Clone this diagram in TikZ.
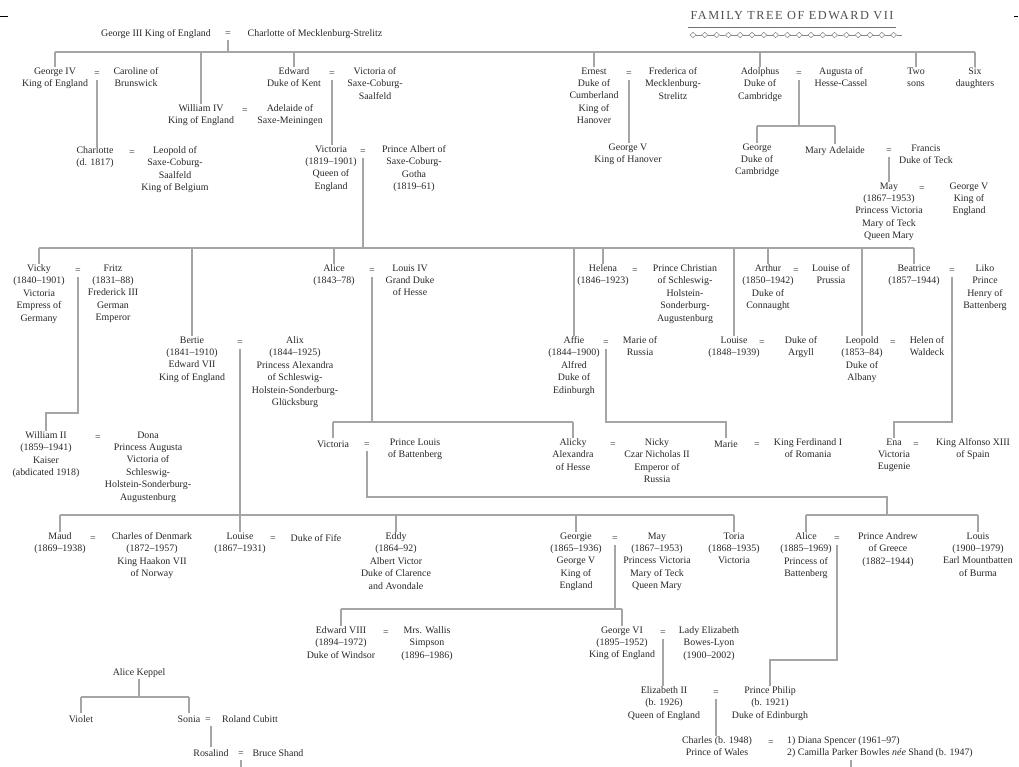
\documentclass[tikz,border=0pt]{standalone}
\usepackage{fontspec}
\setmainfont{Liberation Serif}
\definecolor{txt}{RGB}{40,40,40}
\definecolor{lngray}{RGB}{165,165,165}
\definecolor{ttlgray}{RGB}{80,80,80}
\begin{document}
\begin{tikzpicture}[x=1pt,y=-1pt,
  per/.style={align=center, inner sep=0pt, anchor=north, yshift=5.6pt,
    font=\fontsize{9.9}{12.4}\selectfont, text=txt, execute at begin node=\strut},
  ln/.style={draw=lngray, line width=1.3pt},
  orn/.style={draw=ttlgray!70, line width=0.5pt}]
\fill[white] (0,0) rectangle (1019,767);
\useasboundingbox (0,0) rectangle (1019,767);

% crop marks
\draw[black, line width=0.8pt] (0,16) -- (8,16);
\draw[black, line width=0.6pt] (1014,16) -- (1018,16);

% title with rule and ornament
\node[text=ttlgray, inner sep=0pt, font=\fontsize{12.3}{14}\selectfont\addfontfeatures{LetterSpace=12}] (ttl) at (792,16) {FAMILY TREE OF EDWARD VII};
\coordinate (rl) at (688,27);
\coordinate (rr) at (896,27);
\draw[draw=ttlgray!80, line width=0.8pt] (rl) -- (rr);
\foreach \i in {0,...,17}{
  \draw[orn] ({693+11.8*\i-3},35) -- ({693+11.8*\i},32.3) -- ({693+11.8*\i+3},35) -- ({693+11.8*\i},37.7) -- cycle;
  \draw[orn] ({693+11.8*\i+3},35) -- ({693+11.8*\i+8.8},35);
}

% ---------- George III ----------
\node[per] (g3) at (156,33) {George III King of England};
\node[per] (e0) at (228,33) {=};
\node[per] (ch3) at (315,33) {Charlotte of Mecklenburg-Strelitz};

\node[per] (g4) at (55,73) {George IV\\King of England};
\node[per] (eA) at (97,73) {=};
\node[per] (car) at (136,73) {Caroline of\\Brunswick};

\node[per] (w4) at (201,110) {William IV\\King of England};
\node[per] (eW) at (245,110) {=};
\node[per] (ade) at (290,110) {Adelaide of\\Saxe-Meiningen};

\node[per] (edw) at (294,73) {Edward\\Duke of Kent};
\node[per] (eE) at (332,73) {=};
\node[per] (vsc) at (375,73) {Victoria of\\Saxe-Coburg-\\Saalfeld};

\node[per] (cha) at (95,152) {Charlotte\\(d. 1817)};
\node[per] (eC) at (132,152) {=};
\node[per] (leo) at (175,152) {Leopold of\\Saxe-Coburg-\\Saalfeld\\King of Belgium};

\node[per] (vic) at (331,151) {Victoria\\(1819--1901)\\Queen of\\England};
\node[per] (eV) at (363,151) {=};
\node[per] (alb) at (414,151) {Prince Albert of\\Saxe-Coburg-\\Gotha\\(1819--61)};

\node[per] (ern) at (594,73) {Ernest\\Duke of\\Cumberland\\King of\\Hanover};
\node[per] (eR) at (629,73) {=};
\node[per] (fre) at (673,73) {Frederica of\\Mecklenburg-\\Strelitz};
\node[per] (g5h) at (628,149) {George V\\King of Hanover};

\node[per] (adol) at (760,73) {Adolphus\\Duke of\\Cambridge};
\node[per] (eD) at (799,73) {=};
\node[per] (aug) at (841,73) {Augusta of\\Hesse-Cassel};
\node[per] (two) at (916,73) {Two\\sons};
\node[per] (six) at (975,73) {Six\\daughters};

\node[per] (gdc) at (757,149) {George\\Duke of\\Cambridge};
\node[per] (mad) at (835,150) {Mary Adelaide};
\node[per] (eM) at (889,150) {=};
\node[per] (fra) at (926,150) {Francis\\Duke of Teck};

\node[per] (may0) at (889,188) {May\\(1867--1953)\\Princess Victoria\\Mary of Teck\\Queen Mary};
\node[per] (eY) at (922,188) {=};
\node[per] (g5e) at (969,188) {George V\\King of\\England};

% ---------- children of Victoria ----------
\node[per] (vicky) at (39,270) {Vicky\\(1840--1901)\\Victoria\\Empress of\\Germany};
\node[per] (eVF) at (78,270) {=};
\node[per] (fritz) at (113,270) {Fritz\\(1831--88)\\Frederick III\\German\\Emperor};

\node[per] (alice) at (334,270) {Alice\\(1843--78)};
\node[per] (eAL) at (372,270) {=};
\node[per] (lou4) at (410,270) {Louis IV\\Grand Duke\\of Hesse};

\node[per] (helena) at (603,270) {Helena\\(1846--1923)};
\node[per] (eHC) at (635,270) {=};
\node[per] (chr) at (685,270) {Prince Christian\\of Schleswig-\\Holstein-\\Sonderburg-\\Augustenburg};

\node[per] (arthur) at (768,270) {Arthur\\(1850--1942)\\Duke of\\Connaught};
\node[per] (eAP) at (796,270) {=};
\node[per] (lop) at (831,270) {Louise of\\Prussia};

\node[per] (beat) at (914,270) {Beatrice\\(1857--1944)};
\node[per] (eBL) at (952,270) {=};
\node[per] (liko) at (985,270) {Liko\\Prince\\Henry of\\Battenberg};

\node[per] (bertie) at (192,342) {Bertie\\(1841--1910)\\Edward VII\\King of England};
\node[per] (eBA) at (240,342) {=};
\node[per] (alix) at (295,342) {Alix\\(1844--1925)\\Princess Alexandra\\of Schleswig-\\Holstein-Sonderburg-\\Glücksburg};

\node[per] (affie) at (574,342) {Affie\\(1844--1900)\\Alfred\\Duke of\\Edinburgh};
\node[per] (eAM) at (606,342) {=};
\node[per] (mor) at (640,342) {Marie of\\Russia};

\node[per] (louise1) at (734,342) {Louise\\(1848--1939)};
\node[per] (eLA) at (762,342) {=};
\node[per] (argyll) at (801,342) {Duke of\\Argyll};

\node[per] (leop) at (862,342) {Leopold\\(1853--84)\\Duke of\\Albany};
\node[per] (eLH) at (893,342) {=};
\node[per] (helen) at (927,342) {Helen of\\Waldeck};

% ---------- grandchildren ----------
\node[per] (wII) at (46,437) {William II\\(1859--1941)\\Kaiser\\(abdicated 1918)};
\node[per] (eWD) at (98,437) {=};
\node[per] (dona) at (148,437) {Dona\\Princess Augusta\\Victoria of\\Schleswig-\\Holstein-Sonderburg-\\Augustenburg};

\node[per] (vicA) at (333,444) {Victoria};
\node[per] (eVL) at (367,444) {=};
\node[per] (pla) at (415,444) {Prince Louis\\of Battenberg};

\node[per] (alicky) at (573,444) {Alicky\\Alexandra\\of Hesse};
\node[per] (eAN) at (613,444) {=};
\node[per] (nicky) at (657,444) {Nicky\\Czar Nicholas II\\Emperor of\\Russia};

\node[per] (marie) at (726,444) {Marie};
\node[per] (eMF) at (757,444) {=};
\node[per] (ferd) at (808,444) {King Ferdinand I\\of Romania};

\node[per] (ena) at (894,444) {Ena\\Victoria\\Eugenie};
\node[per] (eEA) at (916,444) {=};
\node[per] (alf) at (973,444) {King Alfonso XIII\\of Spain};

% ---------- children of Bertie and of Victoria of Hesse ----------
\node[per] (maud) at (60,538) {Maud\\(1869--1938)};
\node[per] (eMC) at (93,538) {=};
\node[per] (chd) at (152,538) {Charles of Denmark\\(1872--1957)\\King Haakon VII\\of Norway};

\node[per] (louise2) at (240,538) {Louise\\(1867--1931)};
\node[per] (eLF) at (273,538) {=};
\node[per] (fife) at (316,538) {Duke of Fife};

\node[per] (eddy) at (396,538) {Eddy\\(1864--92)\\Albert Victor\\Duke of Clarence\\and Avondale};

\node[per] (georgie) at (576,538) {Georgie\\(1865--1936)\\George V\\King of\\England};
\node[per] (eGM) at (615,538) {=};
\node[per] (may1) at (657,538) {May\\(1867--1953)\\Princess Victoria\\Mary of Teck\\Queen Mary};

\node[per] (toria) at (734,538) {Toria\\(1868--1935)\\Victoria};

\node[per] (aliceB) at (806,538) {Alice\\(1885--1969)\\Princess of\\Battenberg};
\node[per] (eAA) at (837,538) {=};
\node[per] (andrew) at (888,538) {Prince Andrew\\of Greece\\(1882--1944)};

\node[per] (louisM) at (978,538) {Louis\\(1900--1979)\\Earl Mountbatten\\of Burma};

% ---------- later generations ----------
\node[per] (ed8) at (341,632) {Edward VIII\\(1894--1972)\\Duke of Windsor};
\node[per] (eEW) at (386,632) {=};
\node[per] (wal) at (427,632) {Mrs. Wallis\\Simpson\\(1896--1986)};

\node[per] (g6) at (622,632) {George VI\\(1895--1952)\\King of England};
\node[per] (eGE) at (663,632) {=};
\node[per] (eli) at (709,632) {Lady Elizabeth\\Bowes-Lyon\\(1900--2002)};

\node[per] (e2) at (664,692) {Elizabeth II\\(b. 1926)\\Queen of England};
\node[per] (eEP) at (716,692) {=};
\node[per] (phil) at (770,692) {Prince Philip\\(b. 1921)\\Duke of Edinburgh};

\node[per] (charles) at (717,742) {Charles (b. 1948)\\Prince of Wales};
\node[per] (eCD) at (771,742) {=};
\node[per, anchor=north west, align=left] (wives) at (787,742) {1) Diana Spencer (1961--97)\\2) Camilla Parker Bowles \textit{née} Shand (b. 1947)};

% ---------- Keppel line ----------
\node[per] (ak) at (139,672) {Alice Keppel};
\node[per] (violet) at (81,719) {Violet};
\node[per] (sonia) at (189,719) {Sonia};
\node[per] (eSR) at (208,719) {=};
\node[per] (rcub) at (250,719) {Roland Cubitt};
\node[per] (ros) at (211,753) {Rosalind};
\node[per] (eRB) at (241,753) {=};
\node[per] (bsh) at (278,753) {Bruce Shand};

% ---------- bar levels ----------
\coordinate (b0) at (0,52);
\coordinate (bAd) at (0,126);
\coordinate (b1) at (0,248);
\coordinate (bW) at (0,413);
\coordinate (b2) at (0,422);
\coordinate (cVL) at (887,497);
\coordinate (b3) at (0,515);
\coordinate (b4) at (0,609);
\coordinate (b5) at (0,660);
\coordinate (b6) at (0,697);
\coordinate (endR) at (241,767);
\coordinate (endC) at (851,767);

% ---------- connectors ----------
% George III
\draw[ln] (e0.south) -- (e0.south |- b0);
\draw[ln] (g4.north |- b0) -- (six.north |- b0);
\foreach \n in {g4,w4,edw,ern,adol,two,six} \draw[ln] (\n.north |- b0) -- (\n.north);

\draw[ln] (eA.south) -- (eA.south |- cha.north);
\draw[ln] (eE.south) -- (eE.south |- vic.north);
\draw[ln] (eR.south) -- (eR.south |- g5h.north);
\draw[ln] (eD.south) -- (eD.south |- bAd);
\draw[ln] (gdc.north |- bAd) -- (mad.north |- bAd);
\foreach \n in {gdc,mad} \draw[ln] (\n.north |- bAd) -- (\n.north);
\draw[ln] (eM.south) -- (eM.south |- may0.north);

% Victoria and Albert
\draw[ln] (eV.south) -- (eV.south |- b1);
\draw[ln] (vicky.north |- b1) -- (beat.north |- b1);
\foreach \n in {vicky,bertie,alice,affie,helena,louise1,arthur,leop,beat} \draw[ln] (\n.north |- b1) -- (\n.north);

% Vicky and Fritz
\draw[ln] (eVF.south) -- (eVF.south |- bW) -| (wII.north);
% Alice and Louis IV
\draw[ln] (eAL.south) -- (eAL.south |- b2);
\draw[ln] (vicA.north |- b2) -- (alicky.north |- b2);
\foreach \n in {vicA,alicky} \draw[ln] (\n.north |- b2) -- (\n.north);
% Affie and Marie
\draw[ln] (eAM.south) -- (eAM.south |- b2) -| (marie.north);
% Beatrice and Liko
\draw[ln] (eBL.south) -- (eBL.south |- b2) -| (ena.north);

% Bertie and Alix
\draw[ln] (eBA.south) -- (eBA.south |- b3);
\draw[ln] (maud.north |- b3) -- (toria.north |- b3);
\foreach \n in {maud,louise2,eddy,georgie,toria} \draw[ln] (\n.north |- b3) -- (\n.north);

% Victoria and Prince Louis
\draw[ln] (eVL.south) |- (cVL) -- (cVL |- b3);
\draw[ln] (aliceB.north |- b3) -- (louisM.north |- b3);
\foreach \n in {aliceB,louisM} \draw[ln] (\n.north |- b3) -- (\n.north);

% Georgie and May
\draw[ln] (eGM.south) -- (eGM.south |- b4);
\draw[ln] (ed8.north |- b4) -- (g6.north |- b4);
\foreach \n in {ed8,g6} \draw[ln] (\n.north |- b4) -- (\n.north);

% Alice and Andrew
\draw[ln] (eAA.south) -- (eAA.south |- b5) -| (phil.north);
% George VI and Elizabeth
\draw[ln] (eGE.south) -- (eGE.south |- e2.north);
% Elizabeth II and Philip
\draw[ln] (eEP.south) -- (eEP.south |- charles.north);
\draw[ln] (endC |- wives.south) -- (endC);

% Keppel
\draw[ln] (ak.south) -- (ak.south |- b6);
\draw[ln] (violet.north |- b6) -- (sonia.north |- b6);
\foreach \n in {violet,sonia} \draw[ln] (\n.north |- b6) -- (\n.north);
\draw[ln] (ros.north |- eSR.south) -- (ros.north);
\draw[ln] (eRB.south) -- (endR);
\end{tikzpicture}
\end{document}
